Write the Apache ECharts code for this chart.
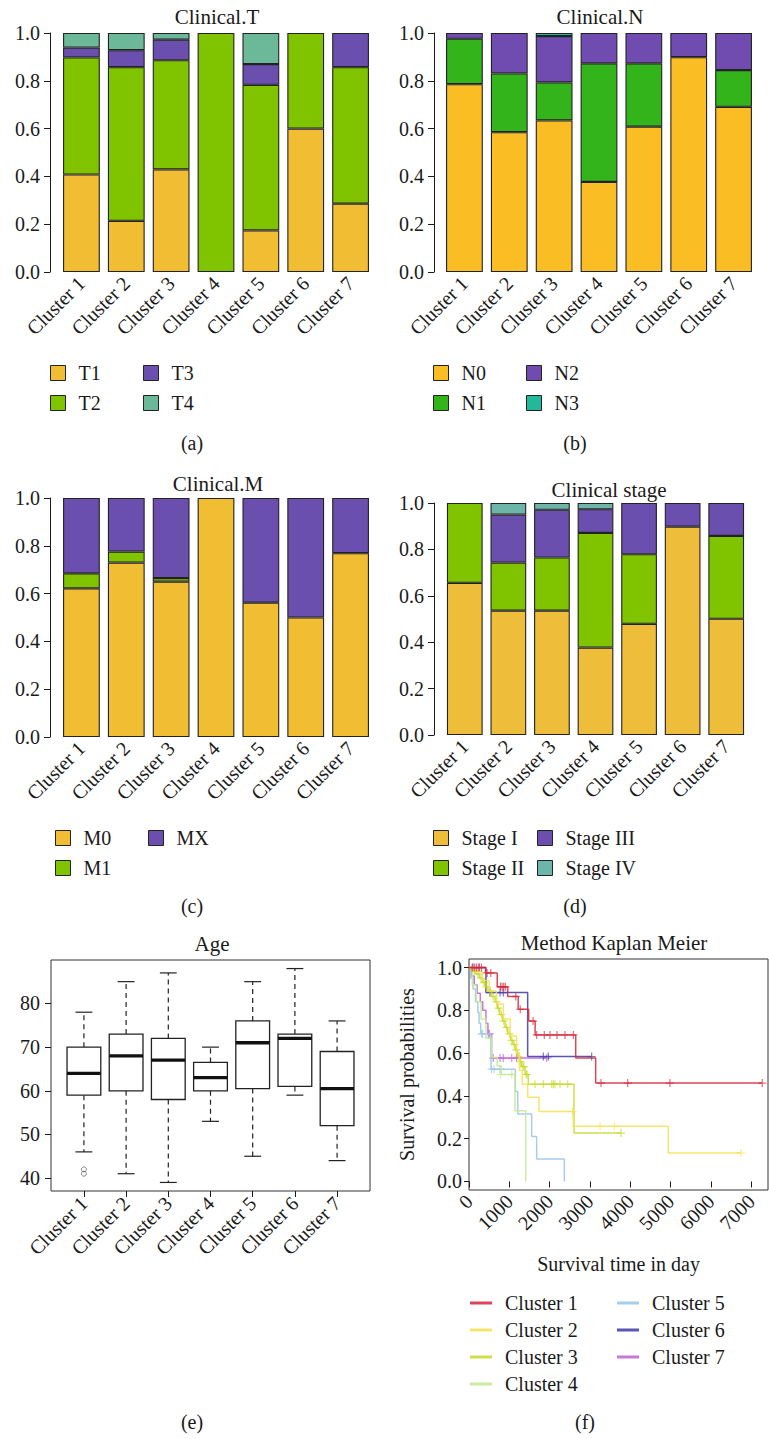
<!DOCTYPE html>
<html>
<head>
<meta charset="utf-8">
<script src="https://cdn.jsdelivr.net/npm/echarts@6/dist/echarts.min.js"></script>
<style>
html,body{margin:0;padding:0;background:#fff}
#main{width:769px;height:1439px}
</style>
</head>
<body>
<div id="main"></div>
<script>
const clusters = ['Cluster 1', 'Cluster 2', 'Cluster 3', 'Cluster 4', 'Cluster 5', 'Cluster 6', 'Cluster 7'];

// (a) Clinical.T
const tNames = ['T1', 'T2', 'T3', 'T4'];
const tT1 = [0.408, 0.214, 0.429, 0, 0.174, 0.600, 0.286];
const tT2 = [0.490, 0.643, 0.457, 1, 0.609, 0.400, 0.571];
const tT3 = [0.041, 0.071, 0.086, 0, 0.087, 0, 0.143];
const tT4 = [0.061, 0.072, 0.028, 0, 0.130, 0, 0];

// (b) Clinical.N
const nNames = ['N0', 'N1', 'N2', 'N3'];
const nN0 = [0.786, 0.585, 0.634, 0.377, 0.608, 0.899, 0.691];
const nN1 = [0.190, 0.246, 0.159, 0.496, 0.265, 0, 0.154];
const nN2 = [0.024, 0.169, 0.194, 0.127, 0.127, 0.101, 0.155];
const nN3 = [0, 0, 0.013, 0, 0, 0, 0];

// (c) Clinical.M
const mNames = ['M0', 'M1', 'MX'];
const mM0 = [0.622, 0.730, 0.650, 1, 0.562, 0.500, 0.769];
const mM1 = [0.063, 0.046, 0.015, 0, 0, 0, 0];
const mMX = [0.315, 0.224, 0.335, 0, 0.438, 0.500, 0.231];

// (d) Clinical stage
const sNames = ['Stage I', 'Stage II', 'Stage III', 'Stage IV'];
const sI = [0.656, 0.536, 0.536, 0.377, 0.479, 0.898, 0.501];
const sII = [0.344, 0.207, 0.229, 0.494, 0.300, 0, 0.357];
const sIII = [0, 0.207, 0.206, 0.102, 0.221, 0.102, 0.142];
const sIV = [0, 0.050, 0.029, 0.027, 0, 0, 0];

// (e) Age boxplot
const ageMin = [46, 41, 39, 53, 45, 59, 44];
const ageQ1 = [59, 60, 58, 60, 60.5, 61, 52];
const ageMed = [64, 68, 67, 63, 71, 72, 60.5];
const ageQ3 = [70, 73, 72, 66.5, 76, 73, 69];
const ageMax = [78, 85, 87, 70, 85, 88, 76];
const ageOut = [[1, 41], [1, 42]];
const ageTicks = [40, 50, 60, 70, 80];

// (f) Kaplan Meier: [day, survival] step points and censor marks
const km1 = [[0, 1], [410, 0.975], [700, 0.91], [960, 0.865], [1220, 0.805], [1480, 0.75], [1640, 0.685], [2646, 0.577], [3141, 0.46], [7272, 0.46]];
const km1c = [[80, 1], [140, 1], [190, 1], [250, 1], [310, 1], [450, 0.975], [540, 0.975], [780, 0.91], [820, 0.91], [860, 0.91], [900, 0.91], [1160, 0.865], [1270, 0.805], [1590, 0.75], [1678, 0.685], [1867, 0.685], [2008, 0.685], [2182, 0.685], [2380, 0.685], [2587, 0.685], [3273, 0.46], [3935, 0.46], [4983, 0.46], [7272, 0.46]];
const km2 = [[0, 1], [150, 0.98], [330, 0.94], [500, 0.89], [680, 0.83], [850, 0.76], [1020, 0.68], [1180, 0.60], [1250, 0.52], [1320, 0.455], [1455, 0.394], [1736, 0.327], [2587, 0.258], [4942, 0.133], [6744, 0.133]];
const km2c = [[2570, 0.327], [3250, 0.258], [3604, 0.258], [6744, 0.133]];
const km3 = [[0, 1], [90, 0.985], [170, 0.97], [260, 0.95], [330, 0.93], [400, 0.91], [470, 0.89], [560, 0.865], [645, 0.84], [700, 0.81], [760, 0.78], [830, 0.75], [893, 0.72], [960, 0.69], [1030, 0.66], [1090, 0.64], [1141, 0.615], [1200, 0.585], [1260, 0.56], [1306, 0.537], [1390, 0.50], [1470, 0.455], [2603, 0.226], [3769, 0.226]];
const km3c = [[130, 0.985], [220, 0.97], [300, 0.95], [370, 0.93], [440, 0.91], [520, 0.89], [600, 0.865], [680, 0.84], [730, 0.81], [800, 0.78], [860, 0.75], [930, 0.72], [1000, 0.69], [1060, 0.66], [1120, 0.64], [1170, 0.615], [1230, 0.585], [1280, 0.56], [1340, 0.537], [1360, 0.537], [1420, 0.50], [1440, 0.50], [1637, 0.455], [1843, 0.455], [2050, 0.455], [2092, 0.455], [2133, 0.455], [2257, 0.455], [2447, 0.455], [3769, 0.226]];
const km4 = [[0, 1], [80, 0.92], [180, 0.84], [300, 0.76], [420, 0.67], [560, 0.58], [700, 0.54], [800, 0.50], [1140, 0.33], [1406, 0]];
const km4c = [[780, 0.5], [1060, 0.5]];
const km5 = [[0, 1], [40, 0.95], [100, 0.90], [160, 0.84], [220, 0.79], [250, 0.74], [290, 0.69], [545, 0.525], [1150, 0.42], [1210, 0.315], [1554, 0.21], [1678, 0.105], [2364, 0]];
const km5c = [[315, 0.69], [340, 0.69], [560, 0.525], [620, 0.525], [770, 0.525]];
const km6 = [[0, 1], [420, 0.883], [1455, 0.584], [3042, 0.584]];
const km6c = [[100, 1], [250, 1], [520, 0.883], [770, 0.883], [850, 0.883], [1843, 0.584], [1967, 0.584], [3042, 0.584]];
const km7 = [[0, 1], [60, 0.96], [130, 0.92], [200, 0.88], [280, 0.84], [340, 0.80], [420, 0.74], [470, 0.69], [560, 0.577], [1925, 0.577]];
const km7c = [[480, 0.69], [510, 0.69], [600, 0.577], [770, 0.577], [850, 0.577], [1060, 0.577], [1180, 0.577], [1925, 0.577]];
const kmTicks = [0, 1000, 2000, 3000, 4000, 5000, 6000, 7000];
const kmColors = ['rgba(215,38,56,0.85)', 'rgba(246,224,80,0.85)', 'rgba(196,218,40,0.85)', 'rgba(196,234,150,0.9)', 'rgba(160,200,232,0.9)', 'rgba(72,68,172,0.9)', 'rgba(196,104,214,0.9)'];

const FONT = '"Liberation Serif", "Times New Roman", serif';
const chart = echarts.init(document.getElementById('main'), null, { renderer: 'svg' });

const grids = [
  { left: 59, top: 33, width: 314, height: 239 },
  { left: 442, top: 33, width: 314, height: 239 },
  { left: 59, top: 498, width: 314, height: 239 },
  { left: 443, top: 503, width: 305, height: 232 },
  { left: 51, top: 960, width: 319, height: 231, show: true, borderColor: '#333', borderWidth: 1 },
  { left: 469, top: 959, width: 299, height: 231, show: true, borderColor: '#333', borderWidth: 1 }
];

const labelStyle = { fontFamily: FONT, fontSize: 20, color: '#1a1a1a' };

const xAxes = [];
const yAxes = [];
for (let i = 0; i < 4; i++) {
  xAxes.push({
    type: 'category', gridIndex: i, data: clusters,
    axisLine: { show: false }, axisTick: { show: false },
    axisLabel: Object.assign({ rotate: 45, margin: 8, interval: 0 }, labelStyle)
  });
  yAxes.push({
    type: 'value', gridIndex: i, min: 0, max: 1, interval: 0.2, offset: i === 1 ? 8 : 9,
    axisLine: { show: true, lineStyle: { color: '#1a1a1a', width: 1 } },
    axisTick: { show: true, length: 6, lineStyle: { color: '#1a1a1a' } },
    splitLine: { show: false },
    axisLabel: Object.assign({ margin: 10, formatter: v => v.toFixed(1) }, labelStyle)
  });
}
// (e) age
xAxes.push({
  type: 'value', gridIndex: 4, min: 0.22, max: 7.78,
  axisLine: { show: false }, splitLine: { show: false },
  axisTick: { show: true, length: 6, customValues: [1, 2, 3, 4, 5, 6, 7], lineStyle: { color: '#1a1a1a' } },
  axisLabel: Object.assign({ rotate: 45, margin: 9, customValues: [1, 2, 3, 4, 5, 6, 7], formatter: v => clusters[Math.round(v) - 1] }, labelStyle)
});
yAxes.push({
  type: 'value', gridIndex: 4, min: 37.04, max: 89.96,
  axisLine: { show: false }, splitLine: { show: false },
  axisTick: { show: true, length: 6, customValues: ageTicks, lineStyle: { color: '#1a1a1a' } },
  axisLabel: Object.assign({ margin: 11, customValues: ageTicks }, labelStyle)
});
// (f) KM
xAxes.push({
  type: 'value', gridIndex: 5, min: 0, max: 7414,
  name: 'Survival time in day', nameLocation: 'middle', nameGap: 64,
  nameTextStyle: { fontFamily: FONT, fontSize: 20, color: '#1a1a1a' },
  axisLine: { show: false }, splitLine: { show: false },
  axisTick: { show: true, length: 6, customValues: kmTicks, lineStyle: { color: '#1a1a1a' } },
  axisLabel: Object.assign({ rotate: 45, margin: 8, customValues: kmTicks, formatter: v => String(v) }, labelStyle)
});
yAxes.push({
  type: 'value', gridIndex: 5, min: -0.04, max: 1.04,
  name: 'Survival probabilities', nameLocation: 'middle', nameGap: 52, nameRotate: 90,
  nameTextStyle: { fontFamily: FONT, fontSize: 20, color: '#1a1a1a' },
  axisLine: { show: false }, splitLine: { show: false },
  axisTick: { show: true, length: 5, customValues: [0, 0.2, 0.4, 0.6, 0.8, 1.0], lineStyle: { color: '#1a1a1a' } },
  axisLabel: Object.assign({ margin: 7, customValues: [0, 0.2, 0.4, 0.6, 0.8, 1.0], formatter: v => v.toFixed(1) }, labelStyle)
});

function barSeries(names, values, colors, idx) {
  return names.map((n, i) => ({
    name: n, type: 'bar', stack: 'p' + idx, xAxisIndex: idx, yAxisIndex: idx,
    barCategoryGap: '18%',
    data: values[i].map(v => (v === 0 ? '-' : v)),
    itemStyle: { color: colors[i], borderColor: '#222', borderWidth: 1.1 },
    emphasis: { disabled: true }
  }));
}

const series = [].concat(
  barSeries(tNames, [tT1, tT2, tT3, tT4], ['#f0bd33', '#80c400', '#6b4fae', '#6cb99a'], 0),
  barSeries(nNames, [nN0, nN1, nN2, nN3], ['#fbbd24', '#33b41b', '#704cb0', '#22b99a'], 1),
  barSeries(mNames, [mM0, mM1, mMX], ['#f0bd33', '#80c400', '#6b4fae'], 2),
  barSeries(sNames, [sI, sII, sIII, sIV], ['#eebd3a', '#80c400', '#6b4fae', '#6db5a8'], 3)
);

series.push({
  type: 'custom', xAxisIndex: 4, yAxisIndex: 4,
  data: clusters.map((c, i) => [i + 1, ageMin[i], ageQ1[i], ageMed[i], ageQ3[i], ageMax[i]]),
  encode: { x: 0, y: [1, 2, 3, 4, 5] },
  renderItem: function (params, api) {
    const x = api.value(0);
    const lo = api.coord([x, api.value(1)]);
    const q1 = api.coord([x, api.value(2)]);
    const md = api.coord([x, api.value(3)]);
    const q3 = api.coord([x, api.value(4)]);
    const hi = api.coord([x, api.value(5)]);
    const w = api.size([0.8, 0])[0];
    const cx = lo[0];
    const dash = { stroke: '#222', lineWidth: 1.2, lineDash: [5, 4], fill: null };
    const solid = { stroke: '#222', lineWidth: 1.2, fill: null };
    return {
      type: 'group',
      children: [
        { type: 'line', shape: { x1: cx, y1: q3[1], x2: cx, y2: hi[1] }, style: dash },
        { type: 'line', shape: { x1: cx, y1: q1[1], x2: cx, y2: lo[1] }, style: dash },
        { type: 'line', shape: { x1: cx - w / 4, y1: hi[1], x2: cx + w / 4, y2: hi[1] }, style: solid },
        { type: 'line', shape: { x1: cx - w / 4, y1: lo[1], x2: cx + w / 4, y2: lo[1] }, style: solid },
        { type: 'rect', shape: { x: cx - w / 2, y: q3[1], width: w, height: q1[1] - q3[1] }, style: { fill: '#fff', stroke: '#222', lineWidth: 1.3 } },
        { type: 'line', shape: { x1: cx - w / 2, y1: md[1], x2: cx + w / 2, y2: md[1] }, style: { stroke: '#111', lineWidth: 3.3 } }
      ]
    };
  }
});
series.push({
  type: 'scatter', xAxisIndex: 4, yAxisIndex: 4, data: ageOut,
  symbol: 'circle', symbolSize: 5,
  itemStyle: { color: 'rgba(0,0,0,0)', borderColor: '#444', borderWidth: 0.8 }
});

const PLUS = 'path://M-0.15,-1L0.15,-1L0.15,-0.15L1,-0.15L1,0.15L0.15,0.15L0.15,1L-0.15,1L-0.15,0.15L-1,0.15L-1,-0.15L-0.15,-0.15Z';
const kmLines = [km1, km2, km3, km4, km5, km6, km7];
const kmCens = [km1c, km2c, km3c, km4c, km5c, km6c, km7c];
kmLines.forEach((d, i) => {
  series.push({
    name: clusters[i], type: 'line', step: 'end', xAxisIndex: 5, yAxisIndex: 5,
    data: d, symbol: 'none', lineStyle: { color: kmColors[i], width: 1.5 },
    itemStyle: { color: kmColors[i] }, z: 10 - i
  });
  series.push({
    name: clusters[i], type: 'scatter', xAxisIndex: 5, yAxisIndex: 5,
    data: kmCens[i], symbol: PLUS, symbolSize: 8,
    itemStyle: { color: kmColors[i] }, z: 10 - i
  });
});

function legendCol(data, left, top, opt) {
  return Object.assign({
    data: data, orient: 'vertical', left: left, top: top, icon: 'rect',
    itemWidth: 15, itemHeight: 15, itemGap: 10, selectedMode: false, padding: 0,
    itemStyle: { borderColor: '#222', borderWidth: 1 },
    textStyle: { fontFamily: FONT, fontSize: 20, lineHeight: 20, color: '#1a1a1a', padding: [0, 0, 0, 8] }
  }, opt || {});
}
const kmLeg = { itemWidth: 22, itemHeight: 3, itemGap: 7, itemStyle: { borderWidth: 0 } };

const legends = [
  legendCol(['T1', 'T2'], 50, 363), legendCol(['T3', 'T4'], 143, 363),
  legendCol(['N0', 'N1'], 433, 363), legendCol(['N2', 'N3'], 526, 363),
  legendCol(['M0', 'M1'], 55, 828), legendCol(['MX'], 148, 828),
  legendCol(['Stage I', 'Stage II'], 433, 828), legendCol(['Stage III', 'Stage IV'], 537, 828),
  legendCol(clusters.slice(0, 4), 470, 1293, kmLeg), legendCol(clusters.slice(4), 617, 1293, kmLeg)
];

function txt(s, x, y, size) {
  return {
    type: 'text', x: x, y: y,
    style: { text: s, font: size + 'px ' + FONT, fill: '#1a1a1a', textAlign: 'center', align: 'center', textVerticalAlign: 'middle', verticalAlign: 'middle' }
  };
}

chart.setOption({
  animation: false,
  backgroundColor: '#fff',
  grid: grids,
  xAxis: xAxes,
  yAxis: yAxes,
  legend: legends,
  series: series,
  graphic: [
    txt('Clinical.T', 217, 17, 21), txt('Clinical.N', 600, 17, 21),
    txt('Clinical.M', 218, 484, 21), txt('Clinical stage', 609, 490, 21),
    txt('Age', 212, 944, 21), txt('Method Kaplan Meier', 614, 943, 21),
    txt('(a)', 192, 443, 20), txt('(b)', 575, 443, 20),
    txt('(c)', 192, 906, 20), txt('(d)', 575, 906, 20),
    txt('(e)', 192, 1422, 20), txt('(f)', 585, 1422, 20)
  ]
});
</script>
</body>
</html>
